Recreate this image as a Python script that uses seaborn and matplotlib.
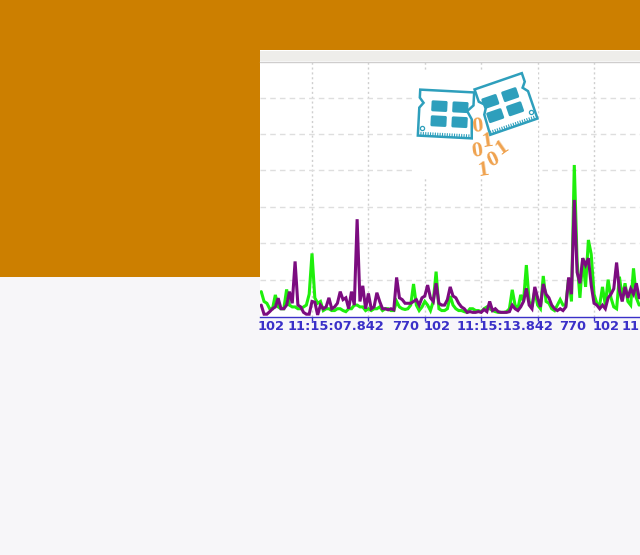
#!/usr/bin/env python3
# coding=utf-8

from matplotlib import pyplot as plt
from matplotlib.patches import FancyBboxPatch, Polygon, Rectangle
from matplotlib.transforms import Affine2D
import seaborn as sns
import pandas as pd
import numpy as np

# seconds past 11:15:00, one sample each 0.1 s
start_time = 5.2
sample_step = 0.1

green_values = [
    0.67, 0.4, 0.35, 0.2, 0.2, 0.58, 0.25, 0.2, 0.2, 0.73, 0.3, 0.25, 0.25, 0.2, 0.2, 0.25, 0.3, 0.6, 1.72, 0.5,
    0.35, 0.4, 0.15, 0.2, 0.2, 0.15, 0.15, 0.2, 0.2, 0.15, 0.12, 0.2, 0.2, 0.3, 0.3, 0.25, 0.25, 0.15, 0.2, 0.15,
    0.2, 0.2, 0.25, 0.15, 0.2, 0.2, 0.15, 0.15, 0.4, 0.25, 0.2, 0.18, 0.2, 0.3, 0.88, 0.3, 0.15, 0.25, 0.4, 0.3,
    0.15, 0.4, 1.22, 0.2, 0.15, 0.15, 0.2, 0.55, 0.3, 0.2, 0.15, 0.15, 0.12, 0.1, 0.2, 0.2, 0.15, 0.15, 0.12, 0.2,
    0.25, 0.2, 0.15, 0.12, 0.1, 0.1, 0.1, 0.12, 0.2, 0.72, 0.3, 0.2, 0.58, 0.4, 1.4, 0.4, 0.25, 0.7, 0.3, 0.2,
    1.1, 0.4, 0.35, 0.2, 0.15, 0.3, 0.45, 0.3, 0.3, 1.04, 0.4, 4.15, 1.5, 0.5, 1.59, 0.8, 2.09, 1.7, 0.6, 0.35,
    0.3, 0.8, 0.3, 1.0, 0.5, 0.25, 0.2, 1.08, 0.5, 0.9, 0.4, 0.3, 1.31, 0.5, 0.3,
]
purple_values = [
    0.3, 0.05, 0.05, 0.12, 0.2, 0.25, 0.49, 0.2, 0.2, 0.3, 0.67, 0.35, 1.5, 0.3, 0.25, 0.1, 0.05, 0.05, 0.4, 0.38,
    0.03, 0.3, 0.2, 0.25, 0.5, 0.2, 0.25, 0.35, 0.67, 0.45, 0.5, 0.2, 0.67, 0.3, 2.66, 0.4, 0.83, 0.2, 0.62, 0.2,
    0.25, 0.64, 0.4, 0.2, 0.2, 0.17, 0.2, 0.17, 1.06, 0.5, 0.45, 0.35, 0.35, 0.35, 0.4, 0.45, 0.3, 0.5, 0.55, 0.85,
    0.5, 0.4, 0.9, 0.35, 0.3, 0.3, 0.45, 0.8, 0.55, 0.5, 0.35, 0.25, 0.2, 0.1, 0.12, 0.1, 0.1, 0.12, 0.1, 0.18,
    0.12, 0.4, 0.15, 0.2, 0.12, 0.1, 0.1, 0.1, 0.12, 0.3, 0.2, 0.15, 0.25, 0.4, 0.76, 0.3, 0.2, 0.8, 0.5, 0.25,
    0.88, 0.6, 0.5, 0.3, 0.2, 0.15, 0.2, 0.15, 0.25, 1.06, 0.6, 3.19, 1.2, 0.9, 1.59, 1.4, 1.59, 0.85, 0.35, 0.3,
    0.2, 0.3, 0.2, 0.5, 0.6, 0.75, 1.47, 0.7, 0.4, 0.8, 0.5, 0.75, 0.6, 0.9, 0.5,
]

grid_levels = [1, 2, 3, 4, 5, 6]
tick_times = [7, 9, 11, 13, 15, 17]
label_times = [5.55, 7.842, 10.33, 11.44, 13.842, 16.24, 17.43, 18.28]
time_labels = ["102", "11:15:07.842", "770", "102", "11:15:13.842", "770", "102", "11"]

ORANGE = "#CC7F00"
PAGE = "#F7F6F9"
TEAL = "#2E9FBC"
BINARY = "#EFA24E"
BLUE = "#3A30C8"
W, H = 640, 555

sns.set_style("white")
plt.rcParams["font.family"] = ["DejaVu Sans"]

fig = plt.figure(figsize=(W / 100, H / 100), dpi=100, facecolor=PAGE)

# page behind the chart, in pixels
back = fig.add_axes([0, 0, 1, 1], zorder=0)
back.set_xlim(0, W)
back.set_ylim(H, 0)
back.axis("off")
back.add_patch(Rectangle((0, 0), W, 50, color=ORANGE, lw=0))
back.add_patch(Rectangle((0, 0), 260, 277, color=ORANGE, lw=0))
back.add_patch(Rectangle((260, 50), 380, 268, color="white", lw=0))
back.add_patch(Rectangle((260, 51), 380, 10, color="#EEEDEA", lw=0))
back.plot([260, 640], [61.5, 61.5], color="#CFCDCD", lw=1)

# chart
ax = fig.add_axes([260 / W, 1 - 317 / H, 380 / W, 255 / H], zorder=1)
ax.patch.set_alpha(0)

times = start_time + sample_step * np.arange(len(green_values))
df = pd.DataFrame({"time": times, "green": green_values, "purple": purple_values})
sns.lineplot(data=df, x="time", y="green", color="#1FEF0C", lw=2.2, ax=ax, zorder=3, solid_joinstyle="miter")
sns.lineplot(data=df, x="time", y="purple", color="#7C0C80", lw=2.2, ax=ax, zorder=4, solid_joinstyle="miter")

ax.set_xlim(5.156, 18.63)
ax.set_ylim(-0.027, 6.98)
ax.set_xlabel("")
ax.set_ylabel("")
ax.set_yticks(grid_levels)
ax.set_yticklabels([])
ax.tick_params(axis="y", left=False)
ax.set_xticks(tick_times)
ax.set_xticklabels([])
ax.set_xticks(label_times, minor=True)
ax.set_xticklabels(time_labels, minor=True, fontsize=9.4, fontweight="bold", color=BLUE)
ax.tick_params(axis="x", which="major", bottom=True, length=3, width=1, color=BLUE)
ax.tick_params(axis="x", which="minor", bottom=False, length=0, pad=2.5)
ax.grid(axis="y", color="#DEDEDE", lw=1, ls=(0, (4, 3)), zorder=0)
ax.grid(axis="x", which="major", color="#CFCFCF", lw=1, ls=(0, (1.5, 2)), zorder=0)
for side in ["top", "left", "right"]:
    ax.spines[side].set_visible(False)
ax.spines["bottom"].set_color(BLUE)
ax.spines["bottom"].set_linewidth(1)

# illustration on top of the chart
over = fig.add_axes([0, 0, 1, 1], zorder=2)
over.set_xlim(0, W)
over.set_ylim(H, 0)
over.axis("off")
over.patch.set_alpha(0)
over.add_patch(Rectangle((413, 70), 125, 109, color="white", lw=0))


def ram_stick(cx, cy, angle, half_w, half_h, flip):
    place = Affine2D().scale(flip, 1).rotate_deg(angle).translate(cx, cy)
    outline = [(-half_w, -half_h), (half_w, -half_h), (half_w, -half_h + 13), (half_w - 6, -half_h + 19),
               (half_w - 1, -half_h + 27), (half_w, half_h), (-half_w, half_h), (-half_w, -5),
               (-half_w + 4, -10), (-half_w, -15)]
    over.add_patch(Polygon(place.transform(outline), closed=True, fc="white", ec=TEAL, lw=1.8))
    for bx in (-15, 6):
        for by in (-13, 2):
            block = FancyBboxPatch((bx + 1.5, by + 1.5), 13, 8, boxstyle="round,pad=1.5", fc=TEAL, ec="none",
                                   transform=place + over.transData)
            over.add_patch(block)
    for px in np.arange(-half_w + 3, half_w - 1, 2.4):
        seg = place.transform([(px, half_h - 3.5), (px, half_h)])
        over.plot(seg[:, 0], seg[:, 1], color=TEAL, lw=0.8)
    hole = place.transform([(-half_w + 4, half_h - 8)])
    over.plot(hole[:, 0], hole[:, 1], "o", ms=3, mfc="white", mec=TEAL, mew=0.9)


ram_stick(446, 114, 3, 27, 23, 1)
ram_stick(506, 104, -19, 25, 24, -1)

binary_digits = [("0", 477, 127, 5), ("1", 487, 141, 8), ("0", 477, 151, 8), ("1", 502, 148, 35),
                 ("0", 493, 160, 25), ("1", 483, 170, 8)]
for digit, dx, dy, rot_deg in binary_digits:
    over.text(dx, dy, digit, color=BINARY, fontsize=16, fontweight="bold", family="Liberation Serif",
              rotation=rot_deg, ha="center", va="center")

fig.savefig("out.png", dpi=100, facecolor=PAGE)
plt.close()
